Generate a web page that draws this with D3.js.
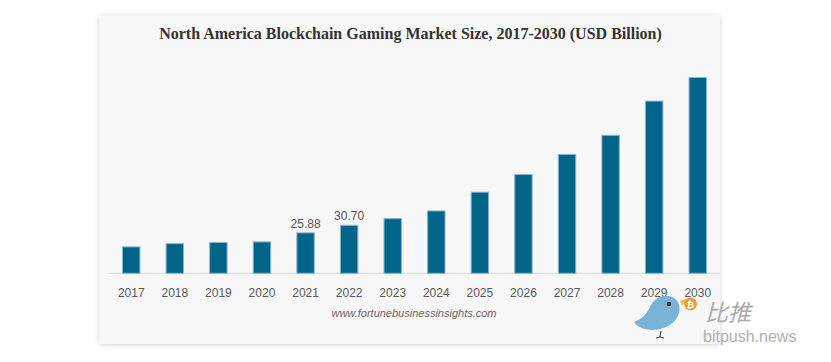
<!DOCTYPE html>
<html>
<head>
<meta charset="utf-8">
<script src="https://cdn.jsdelivr.net/npm/d3@7"></script>
<style>
  html, body { margin: 0; padding: 0; background: #ffffff; }
  svg { display: block; }
</style>
</head>
<body>
<svg id="chart" width="831" height="362"></svg>
<script>
const years = ["2017","2018","2019","2020","2021","2022","2023","2024","2025","2026","2027","2028","2029","2030"];
const values = [16.9, 19.0, 19.7, 20.1, 25.88, 30.70, 35.0, 39.9, 51.9, 63.2, 76.0, 88.3, 110.2, 125.3];
const labelledYears = ["2021", "2022"];
const title = "North America Blockchain Gaming Market Size, 2017-2030 (USD Billion)";
const credit = "www.fortunebusinessinsights.com";

const svg = d3.select("#chart");
const defs = svg.append("defs");
const f = defs.append("filter").attr("id", "shadow").attr("x", "-5%").attr("y", "-5%").attr("width", "110%").attr("height", "115%");
f.append("feDropShadow").attr("dx", 0).attr("dy", 1).attr("stdDeviation", 2.5).attr("flood-color", "#000").attr("flood-opacity", 0.18);

// card
svg.append("rect").attr("x", 99).attr("y", 15).attr("width", 621).attr("height", 329)
  .attr("rx", 3).attr("fill", "#f7f7f7").attr("filter", "url(#shadow)");

svg.append("text").attr("x", 410.5).attr("y", 39).attr("text-anchor", "middle")
  .attr("font-family", "'Liberation Serif', 'Times New Roman', serif")
  .attr("font-weight", "bold").attr("font-size", 16).attr("fill", "#333")
  .text(title);

const baseY = 273.3;
const x = d3.scaleBand().domain(years).range([109, 720]).paddingInner(0.6).paddingOuter(0.31);
const y = d3.scaleLinear().domain([0, 125.3]).range([baseY, 77.5]);

// baseline
svg.append("line").attr("x1", 109).attr("x2", 720).attr("y1", baseY).attr("y2", baseY)
  .attr("stroke", "#dcdcdc").attr("stroke-width", 1);

svg.append("g").selectAll("rect").data(years).join("rect")
  .attr("x", d => x(d))
  .attr("y", (d, i) => y(values[i]))
  .attr("width", x.bandwidth())
  .attr("height", (d, i) => baseY - y(values[i]))
  .attr("fill", "#03648a")
  .attr("stroke", "#86b6cc").attr("stroke-width", 1);

// axis
const axis = svg.append("g").attr("transform", `translate(0,${baseY})`)
  .call(d3.axisBottom(x).tickSize(0).tickPadding(15));
axis.select(".domain").remove();
axis.selectAll("text").attr("font-family", "'Liberation Sans', Arial, sans-serif")
  .attr("font-size", 12).attr("fill", "#595959");

// data labels
svg.append("g").selectAll("text").data(labelledYears).join("text")
  .attr("x", d => x(d) + x.bandwidth() / 2)
  .attr("y", d => y(values[years.indexOf(d)]) - 5)
  .attr("text-anchor", "middle")
  .attr("font-family", "'Liberation Sans', Arial, sans-serif")
  .attr("font-size", 12).attr("fill", "#555")
  .text(d => values[years.indexOf(d)].toFixed(2));

svg.append("text").attr("x", 414).attr("y", 317).attr("text-anchor", "middle")
  .attr("font-family", "'Liberation Sans', Arial, sans-serif")
  .attr("font-style", "italic").attr("font-size", 11).attr("fill", "#666")
  .text(credit);

// watermark
const wm = svg.append("g");
wm.append("path")
  .attr("d", "M634,322 C642,319 646,315 650,307 C654,297 666,293 674,298 C680,302 682,311 676,319 C670,328 655,332 645,329 C640,328 636,325 634,322 Z")
  .attr("fill", "#79b4d6");
wm.append("path").attr("d", "M680,301 L688,298 L682,306 Z").attr("fill", "#f2c230");
wm.append("circle").attr("cx", 669).attr("cy", 304).attr("r", 2.2).attr("fill", "#333");
wm.append("path").attr("d", "M661,331 L660,337 M660,337 L656,338 M660,337 L664,338").attr("stroke", "#333").attr("stroke-width", 1).attr("fill", "none");
wm.append("circle").attr("cx", 690.5).attr("cy", 304).attr("r", 6.5).attr("fill", "#ee9a3a");
wm.append("text").attr("x", 690.5).attr("y", 307.5).attr("text-anchor", "middle")
  .attr("font-family", "'DejaVu Sans', sans-serif").attr("font-size", 9).attr("font-weight", "bold").attr("fill", "#fff").text("₿");
wm.append("text").attr("x", 705).attr("y", 321).attr("font-family", "'Noto Sans CJK SC', sans-serif")
  .attr("font-size", 23).attr("font-style", "italic").attr("fill", "#aaa").text("比推");
wm.append("text").attr("x", 703).attr("y", 342).attr("font-family", "'Liberation Sans', Arial, sans-serif")
  .attr("font-size", 16).attr("fill", "#b0b0b0").text("bitpush.news");
</script>
</body>
</html>
